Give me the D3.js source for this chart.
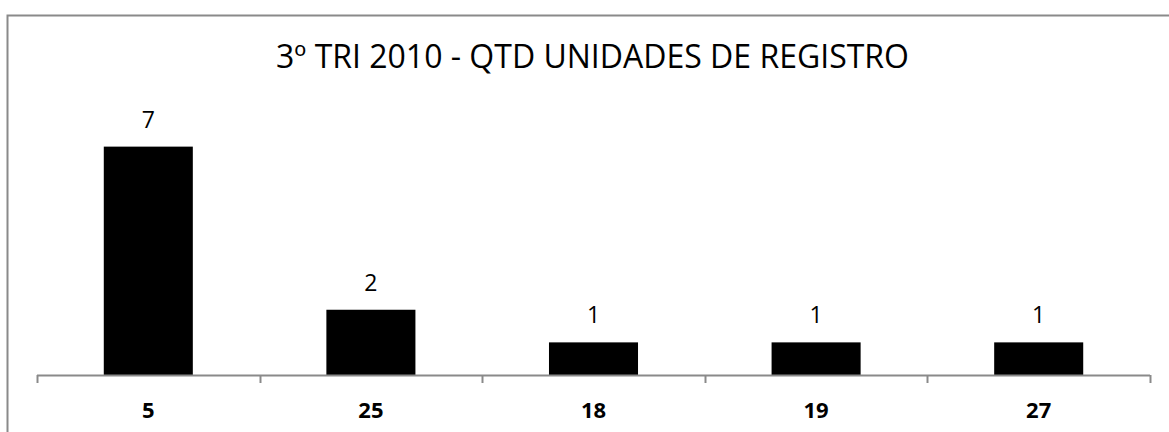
<!DOCTYPE html>
<html>
<head>
<meta charset="utf-8">
<script src="https://cdn.jsdelivr.net/npm/d3@7"></script>
<style>
  html, body { margin: 0; padding: 0; background: #fff; }
  svg { display: block; }
  text { font-family: "Open Sans", "Noto Sans", sans-serif; fill: #000; }
</style>
</head>
<body>
<svg id="chart" width="1169" height="432"></svg>
<script>
const title = "3º TRI 2010 - QTD UNIDADES DE REGISTRO";
const categories = ["5", "25", "18", "19", "27"];
const values = [7, 2, 1, 1, 1];
const yMax = 8;

const svg = d3.select("#chart");

// outer chart border (extends beyond the visible area on right/bottom)
svg.append("rect")
  .attr("x", 7.5).attr("y", 15.5)
  .attr("width", 1200).attr("height", 500)
  .attr("fill", "#fff")
  .attr("stroke", "#8a8a8a")
  .attr("stroke-width", 2);

const plot = { left: 37, right: 1150, top: 114, bottom: 375 };

const x = d3.scaleBand()
  .domain(categories)
  .range([plot.left, plot.right])
  .paddingInner(0.6)
  .paddingOuter(0.3);

const y = d3.scaleLinear()
  .domain([0, yMax])
  .range([plot.bottom, plot.top]);

// title
svg.append("text")
  .attr("x", (272 + 913) / 2)
  .attr("y", 68)
  .attr("text-anchor", "middle")
  .style("font-size", "32px")
  .text(title);

// bars
svg.append("g").selectAll("rect")
  .data(values)
  .join("rect")
  .attr("x", (d, i) => x(categories[i]))
  .attr("y", d => y(d))
  .attr("width", x.bandwidth())
  .attr("height", d => y(0) - y(d))
  .attr("fill", "#000");

// value labels
svg.append("g").selectAll("text")
  .data(values)
  .join("text")
  .attr("x", (d, i) => x(categories[i]) + x.bandwidth() / 2)
  .attr("y", d => y(d) - 19)
  .attr("text-anchor", "middle")
  .style("font-size", "23px")
  .text(d => d);

// x axis
const xAxis = d3.axisBottom(x).tickSize(0).tickFormat(d => d);
const axG = svg.append("g")
  .attr("transform", `translate(0,${plot.bottom})`)
  .call(xAxis);
axG.select(".domain").remove();
axG.selectAll("text")
  .attr("dy", null)
  .attr("y", 43)
  .style("font-size", "22px")
  .style("font-weight", "bold")
  .style("font-family", "\"Open Sans\", sans-serif");

// axis line and category boundary ticks
axG.append("line")
  .attr("x1", plot.left).attr("x2", plot.right)
  .attr("y1", 0.5).attr("y2", 0.5)
  .attr("stroke", "#8a8a8a").attr("stroke-width", 2);
const boundaryScale = d3.scaleLinear().domain([0, categories.length]).range([plot.left, plot.right]);
axG.selectAll("line.tk")
  .data(d3.range(categories.length + 1))
  .join("line")
  .attr("class", "tk")
  .attr("x1", i => Math.round(boundaryScale(i)) + 0.5)
  .attr("x2", i => Math.round(boundaryScale(i)) + 0.5)
  .attr("y1", 0).attr("y2", 8)
  .attr("stroke", "#8a8a8a").attr("stroke-width", 2);
</script>
</body>
</html>
